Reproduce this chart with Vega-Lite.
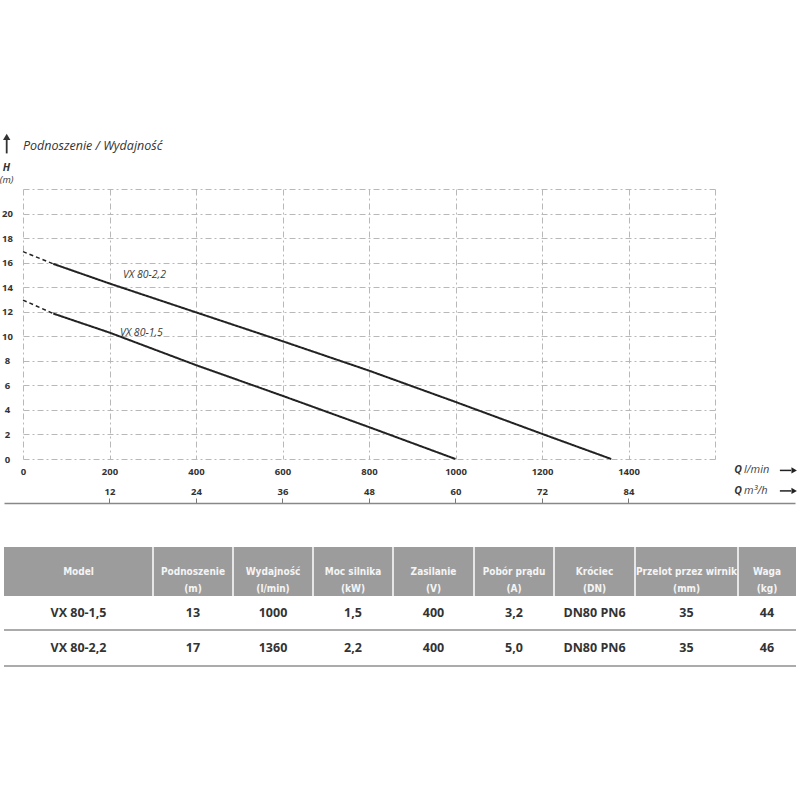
{
  "$schema": "https://vega.github.io/schema/vega-lite/v6.json",
  "width": 692,
  "height": 270,
  "autosize": {"type": "none"},
  "padding": {"left": 23, "top": 189, "right": 85, "bottom": 341},
  "background": "white",
  "config": {"view": {"stroke": null}, "font": "Open Sans"},
  "datasets": {
    "curves": [
      {"model": "VX 80-2,2", "seg": "ext", "q": 0, "h": 16.9},
      {"model": "VX 80-2,2", "seg": "ext", "q": 70, "h": 15.9},
      {"model": "VX 80-1,5", "seg": "ext", "q": 0, "h": 12.95},
      {"model": "VX 80-1,5", "seg": "ext", "q": 70, "h": 11.85},
      {"model": "VX 80-2,2", "seg": "main", "q": 70, "h": 15.9},
      {"model": "VX 80-2,2", "seg": "main", "q": 200, "h": 14.3},
      {"model": "VX 80-2,2", "seg": "main", "q": 400, "h": 11.95},
      {"model": "VX 80-2,2", "seg": "main", "q": 600, "h": 9.6},
      {"model": "VX 80-2,2", "seg": "main", "q": 800, "h": 7.2},
      {"model": "VX 80-2,2", "seg": "main", "q": 1000, "h": 4.65},
      {"model": "VX 80-2,2", "seg": "main", "q": 1200, "h": 2.05},
      {"model": "VX 80-2,2", "seg": "main", "q": 1360, "h": 0},
      {"model": "VX 80-1,5", "seg": "main", "q": 70, "h": 11.85},
      {"model": "VX 80-1,5", "seg": "main", "q": 200, "h": 10.3},
      {"model": "VX 80-1,5", "seg": "main", "q": 400, "h": 7.65},
      {"model": "VX 80-1,5", "seg": "main", "q": 600, "h": 5.15},
      {"model": "VX 80-1,5", "seg": "main", "q": 800, "h": 2.6},
      {"model": "VX 80-1,5", "seg": "main", "q": 1000, "h": 0}
    ],
    "labels": [
      {"label": "VX 80-2,2", "q": 231, "h": 15.0},
      {"label": "VX 80-1,5", "q": 224, "h": 10.3}
    ],
    "m3": [
      {"m3": 12}, {"m3": 24}, {"m3": 36}, {"m3": 48}, {"m3": 60}, {"m3": 72}, {"m3": 84}
    ],
    "table": [
      {"row": 0, "col": 0, "text": "Model"},
      {"row": 0, "col": 1, "text": "Podnoszenie\n(m)"},
      {"row": 0, "col": 2, "text": "Wydajność\n(l/min)"},
      {"row": 0, "col": 3, "text": "Moc silnika\n(kW)"},
      {"row": 0, "col": 4, "text": "Zasilanie\n(V)"},
      {"row": 0, "col": 5, "text": "Pobór prądu\n(A)"},
      {"row": 0, "col": 6, "text": "Króciec\n(DN)"},
      {"row": 0, "col": 7, "text": "Przelot przez wirnik\n(mm)"},
      {"row": 0, "col": 8, "text": "Waga\n(kg)"},
      {"row": 1, "col": 0, "text": "VX 80-1,5"},
      {"row": 1, "col": 1, "text": "13"},
      {"row": 1, "col": 2, "text": "1000"},
      {"row": 1, "col": 3, "text": "1,5"},
      {"row": 1, "col": 4, "text": "400"},
      {"row": 1, "col": 5, "text": "3,2"},
      {"row": 1, "col": 6, "text": "DN80 PN6"},
      {"row": 1, "col": 7, "text": "35"},
      {"row": 1, "col": 8, "text": "44"},
      {"row": 2, "col": 0, "text": "VX 80-2,2"},
      {"row": 2, "col": 1, "text": "17"},
      {"row": 2, "col": 2, "text": "1360"},
      {"row": 2, "col": 3, "text": "2,2"},
      {"row": 2, "col": 4, "text": "400"},
      {"row": 2, "col": 5, "text": "5,0"},
      {"row": 2, "col": 6, "text": "DN80 PN6"},
      {"row": 2, "col": 7, "text": "35"},
      {"row": 2, "col": 8, "text": "46"}
    ]
  },
  "layer": [
    {
      "data": {"name": "curves"},
      "mark": {"type": "line", "color": "#222222"},
      "encoding": {
        "x": {
          "field": "q", "type": "quantitative",
          "scale": {"domain": [0, 1600], "nice": false, "zero": false},
          "axis": {
            "orient": "bottom",
            "values": [0, 200, 400, 600, 800, 1000, 1200, 1400, 1600],
            "labelExpr": "datum.value == 1600 ? '' : datum.label",
            "format": "d",
            "grid": true, "gridColor": "#b8b8b8", "gridDash": [6, 3, 2, 3], "gridWidth": 1,
            "domain": false, "ticks": false, "tickSize": 0,
            "labelFont": "Open Sans", "labelFontWeight": "bold", "labelFontSize": 9.5,
            "labelColor": "#333333", "labelPadding": 7, "labelOverlap": false, "labelFlush": false,
            "title": null
          }
        },
        "y": {
          "field": "h", "type": "quantitative",
          "scale": {"domain": [0, 22], "nice": false, "zero": false},
          "axis": {
            "orient": "left",
            "values": [0, 2, 4, 6, 8, 10, 12, 14, 16, 18, 20, 22],
            "labelExpr": "datum.value == 22 ? '' : datum.label",
            "grid": true, "gridColor": "#b8b8b8", "gridDash": [6, 3, 2, 3], "gridWidth": 1,
            "domain": false, "ticks": false, "tickSize": 0,
            "labelFont": "Open Sans", "labelFontWeight": "bold", "labelFontSize": 9.5,
            "labelColor": "#333333", "labelPadding": 16, "labelAlign": "center", "labelBaseline": "middle",
            "labelOverlap": false, "labelFlush": false,
            "title": "H", "titleAngle": 0, "titleX": -17, "titleY": -22,
            "titleAlign": "center", "titleBaseline": "middle",
            "titleFont": "Open Sans", "titleFontStyle": "italic", "titleFontWeight": "bold",
            "titleFontSize": 10.5, "titleColor": "#333333"
          }
        },
        "detail": {"field": "model"},
        "strokeDash": {"field": "seg", "type": "nominal", "scale": {"domain": ["main", "ext"], "range": [[1, 0], [4, 3]]}, "legend": null},
        "strokeWidth": {"field": "seg", "type": "nominal", "scale": {"domain": ["main", "ext"], "range": [2, 1.5]}, "legend": null}
      }
    },
    {
      "layer": [
        {
          "data": {"name": "labels"},
          "mark": {"type": "text", "font": "Open Sans", "fontStyle": "italic", "fontSize": 10.5, "color": "#3a3a3a", "align": "left", "baseline": "middle"},
          "encoding": {
            "x": {"field": "q", "type": "quantitative", "scale": {"domain": [0, 1600], "nice": false, "zero": false}, "axis": null},
            "y": {"field": "h", "type": "quantitative", "scale": {"domain": [0, 22], "nice": false, "zero": false}, "axis": null},
            "text": {"field": "label"}
          }
        },
        {
          "data": {"values": [{}]},
          "mark": {"type": "text", "font": "Open Sans", "fontStyle": "italic", "fontSize": 12.5, "color": "#333333", "align": "left", "baseline": "middle"},
          "encoding": {
            "x": {"datum": 0, "type": "quantitative", "axis": null},
            "y": {"datum": 25.53, "type": "quantitative", "axis": null},
            "text": {"value": "Podnoszenie / Wydajność"}
          }
        },
        {
          "data": {"values": [{}]},
          "mark": {"type": "text", "font": "Open Sans", "fontStyle": "italic", "fontSize": 9.5, "color": "#333333", "align": "center", "baseline": "middle"},
          "encoding": {
            "x": {"datum": -38, "type": "quantitative", "axis": null},
            "y": {"datum": 22.76, "type": "quantitative", "axis": null},
            "text": {"value": "(m)"}
          }
        },
        {
          "data": {"values": [{}]},
          "mark": {"type": "rule", "color": "#333333", "strokeWidth": 1.8},
          "encoding": {
            "x": {"datum": -37.7, "type": "quantitative", "axis": null},
            "y": {"datum": 24.9, "type": "quantitative", "axis": null},
            "y2": {"datum": 26.0}
          }
        },
        {
          "data": {"values": [{}]},
          "mark": {"type": "point", "shape": "triangle-up", "filled": true, "color": "#333333", "size": 55, "opacity": 1},
          "encoding": {
            "x": {"datum": -37.7, "type": "quantitative", "axis": null},
            "y": {"datum": 26.25, "type": "quantitative", "axis": null}
          }
        },
        {
          "data": {"values": [{"t": "Q", "u": "l/min", "h": -0.93}, {"t": "Q", "u": "m³/h", "h": -2.6}]},
          "mark": {"type": "text", "font": "Open Sans", "fontStyle": "italic", "fontWeight": "bold", "fontSize": 10.5, "color": "#333333", "align": "right", "baseline": "middle"},
          "encoding": {
            "x": {"datum": 1662, "type": "quantitative", "axis": null},
            "y": {"field": "h", "type": "quantitative", "axis": null},
            "text": {"field": "t"}
          }
        },
        {
          "data": {"values": [{"t": "Q", "u": "l/min", "h": -0.93}, {"t": "Q", "u": "m³/h", "h": -2.6}]},
          "mark": {"type": "text", "font": "Open Sans", "fontStyle": "italic", "fontSize": 11, "color": "#444444", "align": "left", "baseline": "middle"},
          "encoding": {
            "x": {"datum": 1667, "type": "quantitative", "axis": null},
            "y": {"field": "h", "type": "quantitative", "axis": null},
            "text": {"field": "u"}
          }
        },
        {
          "data": {"values": [{"h": -0.93}, {"h": -2.6}]},
          "mark": {"type": "rule", "color": "#222222", "strokeWidth": 1.5},
          "encoding": {
            "x": {"datum": 1750, "type": "quantitative", "axis": null},
            "x2": {"datum": 1776},
            "y": {"field": "h", "type": "quantitative", "axis": null}
          }
        },
        {
          "data": {"values": [{"h": -0.93}, {"h": -2.6}]},
          "mark": {"type": "point", "shape": "triangle-right", "filled": true, "color": "#222222", "size": 40, "opacity": 1},
          "encoding": {
            "x": {"datum": 1783, "type": "quantitative", "axis": null},
            "y": {"field": "h", "type": "quantitative", "axis": null}
          }
        }
      ]
    },
    {
      "data": {"name": "m3"},
      "mark": {"type": "tick", "opacity": 0},
      "encoding": {
        "x": {
          "field": "m3", "type": "quantitative",
          "scale": {"domain": [-2.636, 107.1], "range": [-19, 772], "nice": false, "zero": false},
          "axis": {
            "orient": "top", "offset": -314,
            "values": [12, 24, 36, 48, 60, 72, 84],
            "grid": false,
            "domainColor": "#888888", "domainWidth": 1.5,
            "tickColor": "#777777", "tickSize": 5, "tickWidth": 1,
            "labelFont": "Open Sans", "labelFontWeight": "bold", "labelFontSize": 9.5,
            "labelColor": "#333333", "labelPadding": 2, "labelOverlap": false, "labelFlush": false,
            "title": null
          }
        }
      }
    },
    {
      "layer": [
        {
          "data": {"values": [{}]},
          "mark": {"type": "rect", "color": "#9c9c9c"},
          "encoding": {
            "x": {"datum": -0.5, "type": "quantitative",
              "scale": {"domain": [-0.5, 0.5, 1.5, 2.5, 3.5, 4.5, 5.5, 6.5, 7.5, 8.5], "range": [-19, 130, 210, 290, 370, 451, 531, 612, 715, 773], "nice": false, "zero": false},
              "axis": null},
            "x2": {"datum": 8.5},
            "y": {"datum": -0.5, "type": "quantitative",
              "scale": {"domain": [-0.5, 0.5, 1.5, 2.5], "range": [358, 407, 441, 477], "nice": false, "zero": false},
              "axis": null},
            "y2": {"datum": 0.5}
          }
        },
        {
          "data": {"values": [{"b": 0.5}, {"b": 1.5}, {"b": 2.5}, {"b": 3.5}, {"b": 4.5}, {"b": 5.5}, {"b": 6.5}, {"b": 7.5}]},
          "mark": {"type": "rule", "color": "#ffffff", "strokeWidth": 1.5},
          "encoding": {
            "x": {"field": "b", "type": "quantitative", "axis": null},
            "y": {"datum": -0.5, "type": "quantitative", "axis": null},
            "y2": {"datum": 0.5}
          }
        },
        {
          "data": {"values": [{"r": 1.5}, {"r": 2.5}]},
          "mark": {"type": "rule", "color": "#8f8f8f", "strokeWidth": 1.5},
          "encoding": {
            "x": {"datum": -0.5, "type": "quantitative", "axis": null},
            "x2": {"datum": 8.5},
            "y": {"field": "r", "type": "quantitative", "axis": null}
          }
        },
        {
          "data": {"name": "table"},
          "transform": [{"filter": "datum.row == 0"}],
          "mark": {"type": "text", "font": "DejaVu Sans Condensed", "fontWeight": "bold", "fontSize": 10, "color": "#f4f4f4", "align": "center", "baseline": "middle", "lineBreak": "\n", "lineHeight": 17},
          "encoding": {
            "x": {"field": "col", "type": "quantitative", "axis": null},
            "y": {"field": "row", "type": "quantitative", "axis": null},
            "text": {"field": "text"}
          }
        },
        {
          "data": {"name": "table"},
          "transform": [{"filter": "datum.row > 0"}],
          "mark": {"type": "text", "font": "Open Sans", "fontWeight": "bold", "fontSize": 12.5, "color": "#333333", "align": "center", "baseline": "middle"},
          "encoding": {
            "x": {"field": "col", "type": "quantitative", "axis": null},
            "y": {"field": "row", "type": "quantitative", "axis": null},
            "text": {"field": "text"}
          }
        }
      ]
    }
  ],
  "resolve": {"scale": {"x": "independent", "y": "independent"}}
}
